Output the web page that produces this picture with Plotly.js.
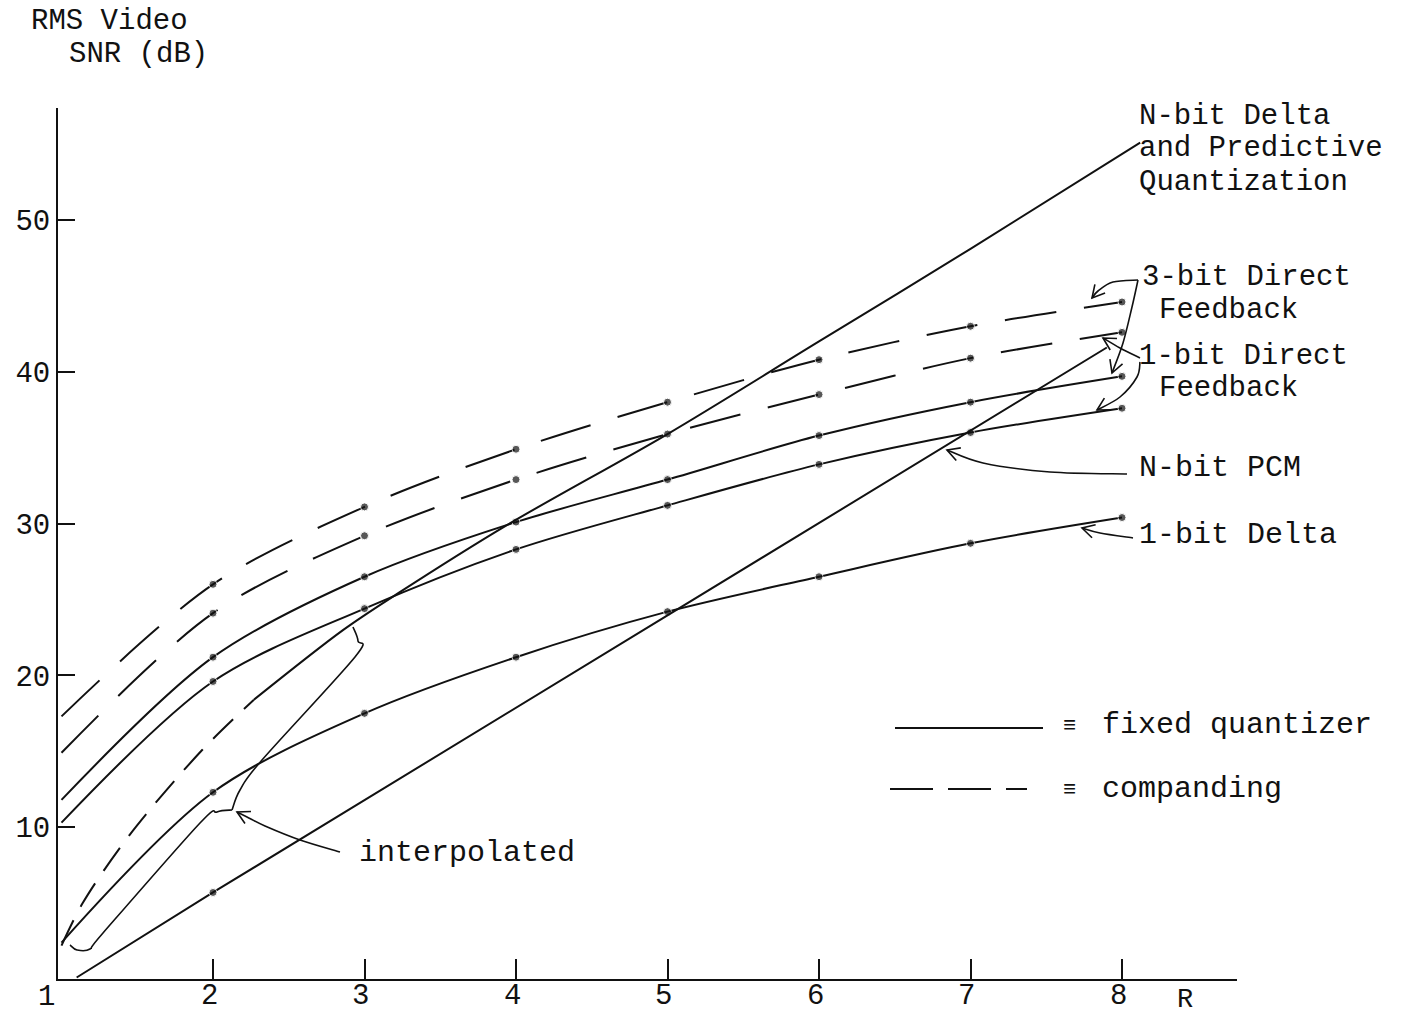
<!DOCTYPE html>
<html><head><meta charset="utf-8">
<script src="https://cdn.plot.ly/plotly-3.0.1.min.js"></script>
<style>html,body{margin:0;padding:0;background:#fff}</style>
</head><body><div id="chart" style="width:1414px;height:1017px"></div>
<script>
// ---------------- data ----------------
const R = [1, 2, 3, 4, 5, 6, 7, 8];
const df3Companding = [17.3, 26.0, 31.1, 34.9, 38.0, 40.8, 43.0, 44.6];
const df1Companding = [14.9, 24.1, 29.2, 32.9, 35.9, 38.5, 40.9, 42.6];
const df3Fixed      = [11.8, 21.2, 26.5, 30.1, 32.9, 35.8, 38.0, 39.7];
const df1Fixed      = [10.3, 19.6, 24.4, 28.3, 31.2, 33.9, 36.0, 37.6];
const delta1        = [2.4, 12.3, 17.5, 21.2, 24.2, 26.5, 28.7, 30.4];
const pcmR = [1.1, 2, 7.9];
const pcm  = [0.1, 5.7, 41.6];
const nDeltaInterpR = [1.0, 1.14, 1.45, 1.93, 2.27];
const nDeltaInterp  = [2.2, 5.0, 9.5, 15.1, 18.4];
const nDeltaR = [2.27, 2.86, 3.22, 3.94, 5.0, 6.0, 7.0, 8.12];
const nDelta  = [18.4, 23.0, 25.4, 29.9, 35.9, 42.0, 48.1, 55.1];
const xTicks = [2, 3, 4, 5, 6, 7, 8];
const xTickText = ['2', '3', '4', '5', '6', '7', '8'];
const yTicks = [10, 20, 30, 40, 50];

// ---------------- styling / geometry ----------------
const FONT = 'Liberation Mono, Courier New, monospace';
const INK = '#111';
// reference pixel -> data / paper helpers (plot area 58..1237 x 108..979)
const X = px => 1 + (px - 61.5) / 151.5;
const Y = py => (979 - py) / 15.18;
const PX = px => (px - 58) / 1179;
const PY = py => (979 - py) / 871;

const dots = arr => arr.map((v, i) => i === 0 ? 0 : 8);

function curve(x, y, dash, withDots) {
  return {
    x: x, y: y, type: 'scatter', mode: withDots ? 'lines+markers' : 'lines',
    line: {color: INK, width: 2, dash: dash, shape: 'spline', smoothing: 0.9},
    marker: {color: INK, size: withDots ? dots(y) : 0},
    hoverinfo: 'skip', showlegend: false
  };
}

const traces = [
  curve(R, df3Companding, '52px,28px', true),
  curve(R, df1Companding, '52px,28px', true),
  curve(R, df3Fixed, 'solid', true),
  curve(R, df1Fixed, 'solid', true),
  curve(R, delta1, 'solid', true),
  {x: pcmR, y: pcm, type: 'scatter', mode: 'lines+markers',
   line: {color: INK, width: 2}, marker: {color: INK, size: [0, 8, 0]},
   hoverinfo: 'skip', showlegend: false},
  curve(nDeltaInterpR, nDeltaInterp, '28px,15px', false),
  curve(nDeltaR, nDelta, 'solid', false)
];

// ---- hand-drawn leader curves (reference pixel points) ----
function smoothPath(pts) {
  let d = `M${PX(pts[0][0])},${PY(pts[0][1])}`;
  for (let i = 0; i < pts.length - 1; i++) {
    const p0 = pts[Math.max(i - 1, 0)], p1 = pts[i], p2 = pts[i + 1], p3 = pts[Math.min(i + 2, pts.length - 1)];
    const c1 = [p1[0] + (p2[0] - p0[0]) / 6, p1[1] + (p2[1] - p0[1]) / 6];
    const c2 = [p2[0] - (p3[0] - p1[0]) / 6, p2[1] - (p3[1] - p1[1]) / 6];
    d += ` C${PX(c1[0])},${PY(c1[1])} ${PX(c2[0])},${PY(c2[1])} ${PX(p2[0])},${PY(p2[1])}`;
  }
  return d;
}
function headPath(pts) {
  const t = pts[pts.length - 1], p = pts[pts.length - 2];
  let dx = t[0] - p[0], dy = t[1] - p[1];
  const n = Math.hypot(dx, dy); dx /= n; dy /= n;
  const L = 14, a = 0.5;
  const r = (s) => [t[0] - L * (dx * Math.cos(s) - dy * Math.sin(s)), t[1] - L * (dx * Math.sin(s) + dy * Math.cos(s))];
  const h1 = r(a), h2 = r(-a);
  return `M${PX(h1[0])},${PY(h1[1])} L${PX(t[0])},${PY(t[1])} L${PX(h2[0])},${PY(h2[1])}`;
}
const arrows = [
  [[1138,280],[1113,282],[1098,291],[1092,298]],
  [[1138,280],[1132,307],[1123,343],[1112,373]],
  [[1140,358],[1120,348],[1103,338]],
  [[1140,362],[1137,377],[1120,397],[1097,410]],
  [[1127,474],[1050,472],[983,463],[947,450]],
  [[1133,538],[1100,533],[1082,528]],
  [[340,852],[300,840],[265,826],[247,817],[237,812]]
];
const brace = [
  [[353,627],[358,641],[355,657],[262,760],[240,790],[232,810]],
  [[232,810],[217,812],[200,823],[103,933],[90,949],[77,950],[70,945]]
];
const shapes = [];
const lineStyle = {color: INK, width: 1.6};
arrows.forEach(a => {
  shapes.push({type: 'path', xref: 'paper', yref: 'paper', path: smoothPath(a), line: lineStyle});
  shapes.push({type: 'path', xref: 'paper', yref: 'paper', path: headPath(a), line: lineStyle});
});
brace.forEach(b => shapes.push({type: 'path', xref: 'paper', yref: 'paper', path: smoothPath(b), line: lineStyle}));
// key lines
shapes.push({type: 'line', xref: 'paper', yref: 'paper', x0: PX(895), x1: PX(1043), y0: PY(728), y1: PY(728), line: {color: INK, width: 2}});
shapes.push({type: 'line', xref: 'paper', yref: 'paper', x0: PX(890), x1: PX(1027), y0: PY(789), y1: PY(789), line: {color: INK, width: 2, dash: '43px,15px'}});

// ---- texts ----
function txt(t, px, py, size, anchor) {
  return {text: t, xref: 'paper', yref: 'paper', x: PX(px), y: PY(py), showarrow: false,
    xanchor: anchor || 'left', yanchor: 'middle', font: {family: FONT, size: size || 30, color: INK}};
}
const annotations = [
  txt('RMS Video', 29, 21, 29),
  txt('SNR (dB)', 67, 54, 29),
  txt('N-bit Delta', 1137, 116, 29),
  txt('and Predictive', 1137, 149, 29),
  txt('Quantization', 1137, 182, 29),
  txt('3-bit Direct', 1140, 277, 29),
  txt('Feedback', 1157, 310, 29),
  txt('1-bit Direct', 1137, 356, 29),
  txt('Feedback', 1157, 389, 29),
  txt('N-bit PCM', 1137, 468),
  txt('1-bit Delta', 1137, 535),
  txt('\u2261', 1069, 726, 22, 'center'),
  txt('fixed quantizer', 1100, 725),
  txt('\u2261', 1069, 790, 22, 'center'),
  txt('companding', 1100, 789),
  txt('interpolated', 357, 853),
  txt('1', 46, 997, 29, 'center'),
  txt('R', 1185, 1000, 27, 'center')
];
// x tick labels drawn just under the axis (as in the reference)
xTicks.forEach((v, i) => annotations.push({
  text: xTickText[i], xref: 'x', yref: 'paper', x: v, y: PY(996), showarrow: false,
  xanchor: 'center', yanchor: 'middle', xshift: -4, font: {family: FONT, size: 29, color: INK}
}));

const axisCommon = {
  showline: true, linecolor: INK, linewidth: 2, ticks: 'inside', tickwidth: 2,
  tickcolor: INK, showgrid: false, zeroline: false, fixedrange: true,
  tickfont: {family: FONT, size: 29, color: INK}
};
const layout = {
  width: 1414, height: 1017,
  margin: {l: 58, r: 177, t: 108, b: 38, pad: 0},
  paper_bgcolor: '#fff', plot_bgcolor: '#fff',
  xaxis: Object.assign({}, axisCommon, {range: [X(58), X(1237)], tickvals: xTicks, ticklen: 20, showticklabels: false}),
  yaxis: Object.assign({}, axisCommon, {range: [Y(979), Y(108)], tickvals: yTicks, ticklen: 17}),
  shapes: shapes, annotations: annotations, showlegend: false
};
Plotly.newPlot('chart', traces, layout, {staticPlot: true, displayModeBar: false});
</script></body></html>
